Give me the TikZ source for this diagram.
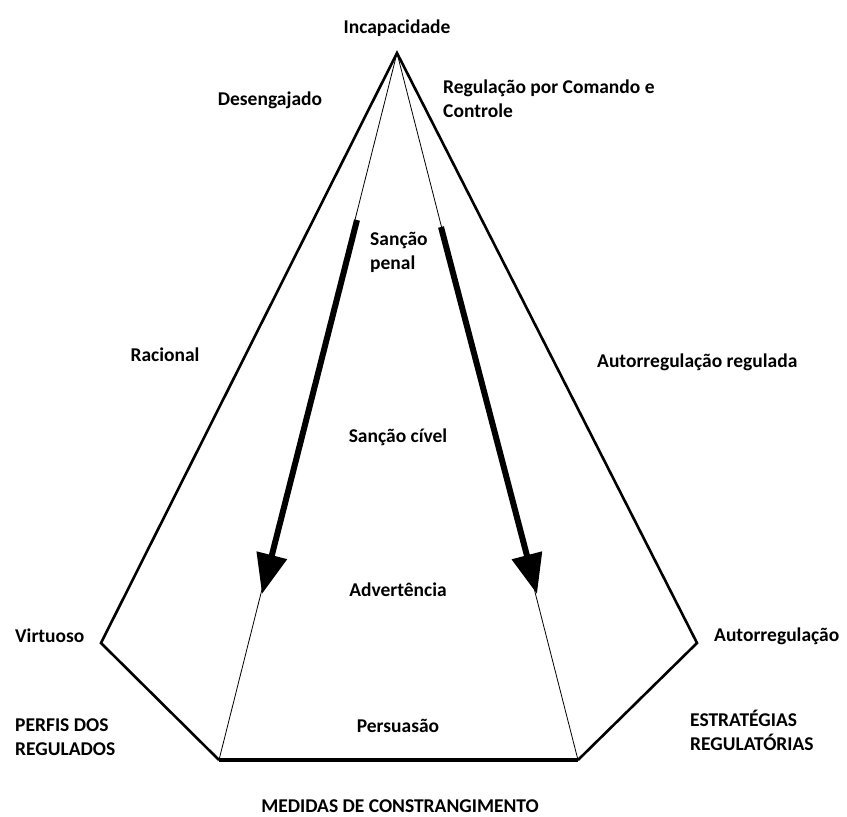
\documentclass[tikz,border=0pt]{standalone}
\usepackage{fontspec}
\setmainfont{Carlito}
\usetikzlibrary{arrows.meta}
\begin{document}
\begin{tikzpicture}[x=1pt,y=-1pt,
  lbl/.style={font=\fontsize{19.5}{24}\selectfont\bfseries, inner sep=0pt, align=center},
  lbll/.style={lbl, anchor=west, align=left},
  edge/.style={line width=2.6pt, line join=miter},
  thin/.style={line width=0.8pt},
  push/.style={line width=6pt, -{Triangle[length=40pt,width=30pt]}}]
\useasboundingbox (0,0) rectangle (847,817);
% corners of the pentagon
\coordinate (apex) at (397,53);
\coordinate (vl) at (101,643);
\coordinate (vr) at (697,643);
\coordinate (bl) at (219,760);
\coordinate (br) at (578,760);
% outline
\draw[edge] (bl) -- (vl) -- (apex) -- (vr) -- (br);
\draw[line width=3.6pt] (bl) -- (br);
% inner lines from the apex
\draw[thin] (apex) -- (bl);
\draw[thin] (apex) -- (br);
% heavy arrows along the inner lines
\coordinate (al0) at (357,220);
\coordinate (al1) at (262,594);
\coordinate (ar0) at (441,227);
\coordinate (ar1) at (537,594);
\draw[push] (al0) -- (al1);
\draw[push] (ar0) -- (ar1);
% labels
\node[lbl] (incap) at (397,28) {Incapacidade};
\node[lbl] (deseng) at (270,100) {Desengajado};
\node[lbll] (rcc) at (443,99) {Regulação por Comando e\\Controle};
\node[lbll] (penal) at (370,252) {Sanção\\penal};
\node[lbl] (racional) at (165,355) {Racional};
\node[lbll] (autoreg) at (597,362) {Autorregulação regulada};
\node[lbl] (civel) at (398,437) {Sanção cível};
\node[lbl] (advert) at (398,590) {Advertência};
\node[lbll] (virt) at (15,636) {Virtuoso};
\node[lbll] (autor) at (714,636) {Autorregulação};
\node[lbll] (perfis) at (15,737) {PERFIS DOS\\REGULADOS};
\node[lbl] (persu) at (398,726) {Persuasão};
\node[lbll] (estrat) at (690,730) {ESTRATÉGIAS\\REGULATÓRIAS};
\node[lbl] (medidas) at (400,806) {MEDIDAS DE CONSTRANGIMENTO};
\end{tikzpicture}
\end{document}
